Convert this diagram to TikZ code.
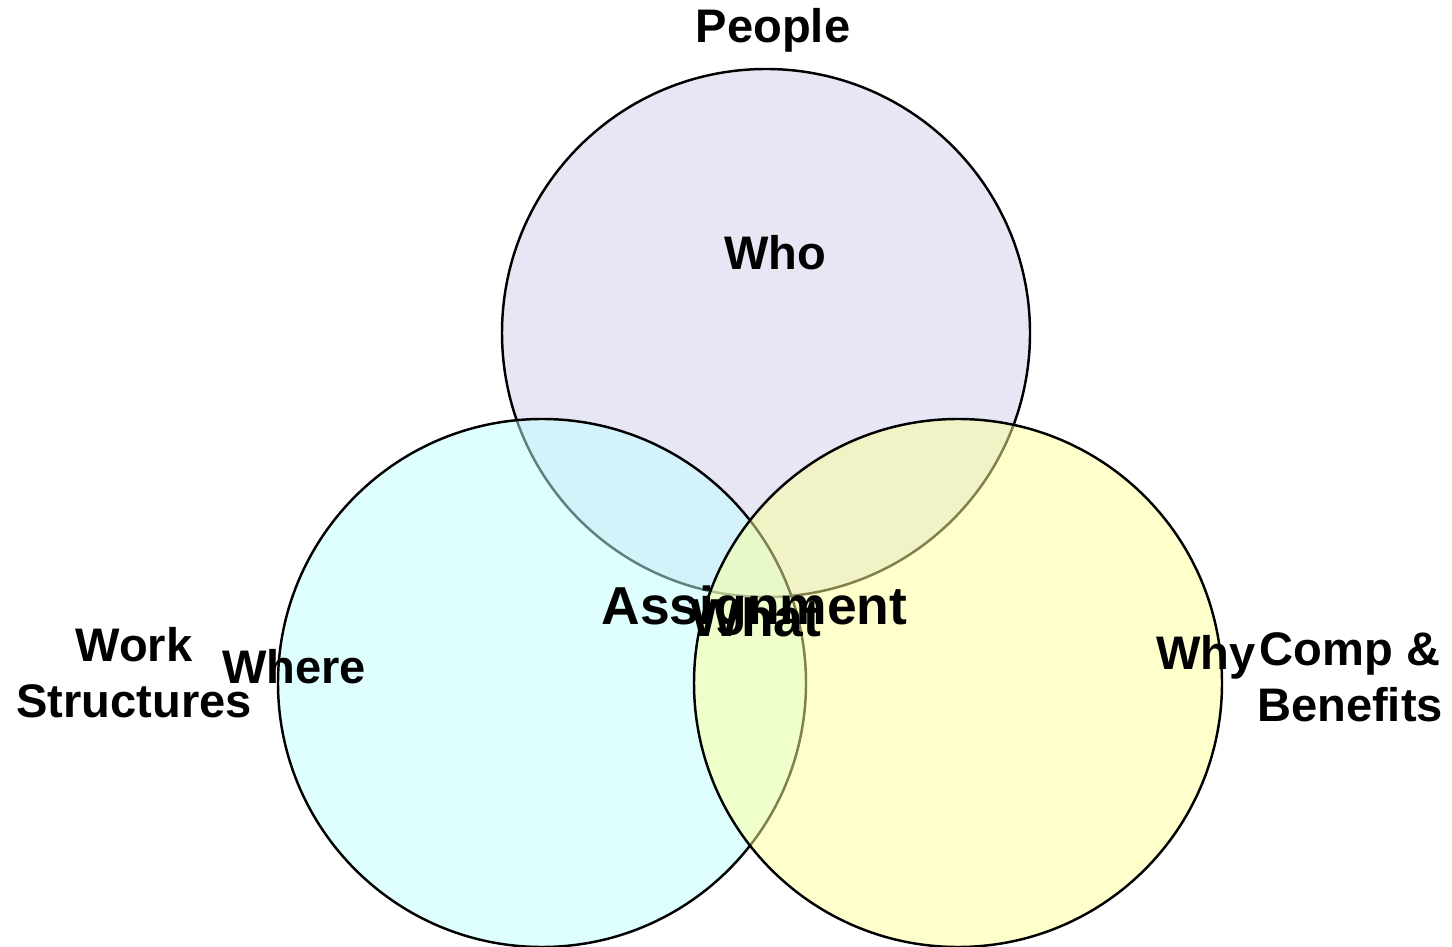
\documentclass[tikz,border=0pt]{standalone}
\usepackage{fontspec}
\setmainfont{Liberation Sans}
\usepackage{tikz}
\usetikzlibrary{positioning}
\definecolor{peoplefill}{RGB}{205,205,235}
\definecolor{workfill}{RGB}{192,255,255}
\definecolor{compfill}{RGB}{255,255,153}

\begin{document}
\begin{tikzpicture}[
 area/.style={draw=black,line width=0.7pt,fill opacity=0.5},
 lbl/.style={inner sep=0pt,anchor=base,align=center,font=\fontsize{13.4}{16.2}\selectfont\bfseries},
 biglbl/.style={lbl,font=\fontsize{15.2}{18}\selectfont\bfseries}
]
\useasboundingbox (0,0) rectangle (14.52,9.47);
% the three sets, drawn in this order
\draw[area,fill=peoplefill] (7.66,6.14) circle (2.64);
\draw[area,fill=workfill] (5.42,2.64) circle (2.64);
\draw[area,fill=compfill] (9.58,2.64) circle (2.64);
% labels
\node[lbl] (people) at (7.73,9.04) {People};
\node[lbl] (who) at (7.75,6.77) {Who};
\node[biglbl] (assign) at (7.545,3.22) {Assignment};
\node[biglbl] (what) at (7.56,3.10) {What};
\node[lbl] (work) at (1.34,2.29) {Work\\Structures};
\node[lbl] (where) at (2.94,2.63) {Where};
\node[lbl] (why) at (12.06,2.77) {Why};
\node[lbl] (comp) at (13.50,2.25) {Comp \&\\Benefits};
\end{tikzpicture}
\end{document}
